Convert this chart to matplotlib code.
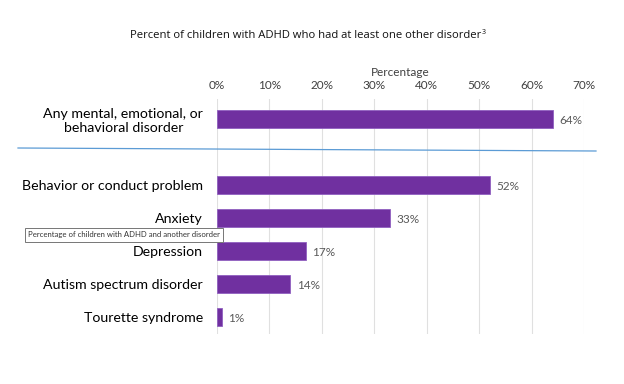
import matplotlib.pyplot as plt
from matplotlib.lines import Line2D

categories = ["Any mental, emotional, or\nbehavioral disorder",
              "Behavior or conduct problem",
              "Anxiety",
              "Depression",
              "Autism spectrum disorder",
              "Tourette syndrome"]
values = [64, 52, 33, 17, 14, 1]
slots = [0, 2, 3, 4, 5, 6]  # empty slot between first bar and the rest
xticks = [0, 10, 20, 30, 40, 50, 60, 70]

purple = "#7030A0"

fig = plt.figure(figsize=(6.24, 3.84), dpi=100)
ax = fig.add_axes([217 / 624, 0.1315, (584.3 - 217) / 624, 0.7417 - 0.1315])

ax.barh(slots, values, height=0.55, color=purple, edgecolor="#9060C0", linewidth=0.6, zorder=3)
for s, v in zip(slots, values):
    ax.text(v + 1.2, s + 0.05, f"{v}%", va="center", ha="left", fontsize=8.5,
            color="#595959", family="Lato")

ax.set_xlim(0, 70)
ax.set_ylim(6.5, -0.6)
ax.set_yticks(slots)
ax.set_yticklabels(categories, fontsize=10.2, family="Lato", multialignment="center")
ax.tick_params(axis="y", length=0, pad=10)
ax.xaxis.tick_top()
ax.set_xticks(xticks)
ax.set_xticklabels([f"{t}%" for t in xticks], fontsize=8.5, family="Lato", color="#404040")
ax.tick_params(axis="x", length=0, pad=6)
ax.grid(axis="x", color="#E0E0E0", linewidth=0.8, zorder=0)
for sp in ax.spines.values():
    sp.set_visible(False)

fig.text(400 / 624, 1 - 72 / 384, "Percentage", ha="center", va="center", fontsize=8.5,
         family="Lato", color="#404040")
fig.text(481 / 624, 1 - 36 / 384,
         "Percent of children with ADHD who had at least one other disorder",
         ha="right", va="center", fontsize=8.1, family="Open Sans", color="#111111")
fig.text(482 / 624, 1 - 33 / 384, "3", ha="left", va="center", fontsize=5,
         family="Open Sans", color="#111111")

fig.add_artist(Line2D([18 / 624, 596 / 624], [1 - 148 / 384, 1 - 151 / 384],
                      color="#5B9BD5", linewidth=0.9))

fig.text(28 / 624, 1 - 235 / 384, "Percentage of children with ADHD and another disorder",
         ha="left", va="center", fontsize=5.6, family="Lato", color="#333333",
         bbox=dict(boxstyle="square,pad=0.4", facecolor="white", edgecolor="#767676", linewidth=0.7),
         zorder=10)

fig.savefig("out.png", dpi=100)
